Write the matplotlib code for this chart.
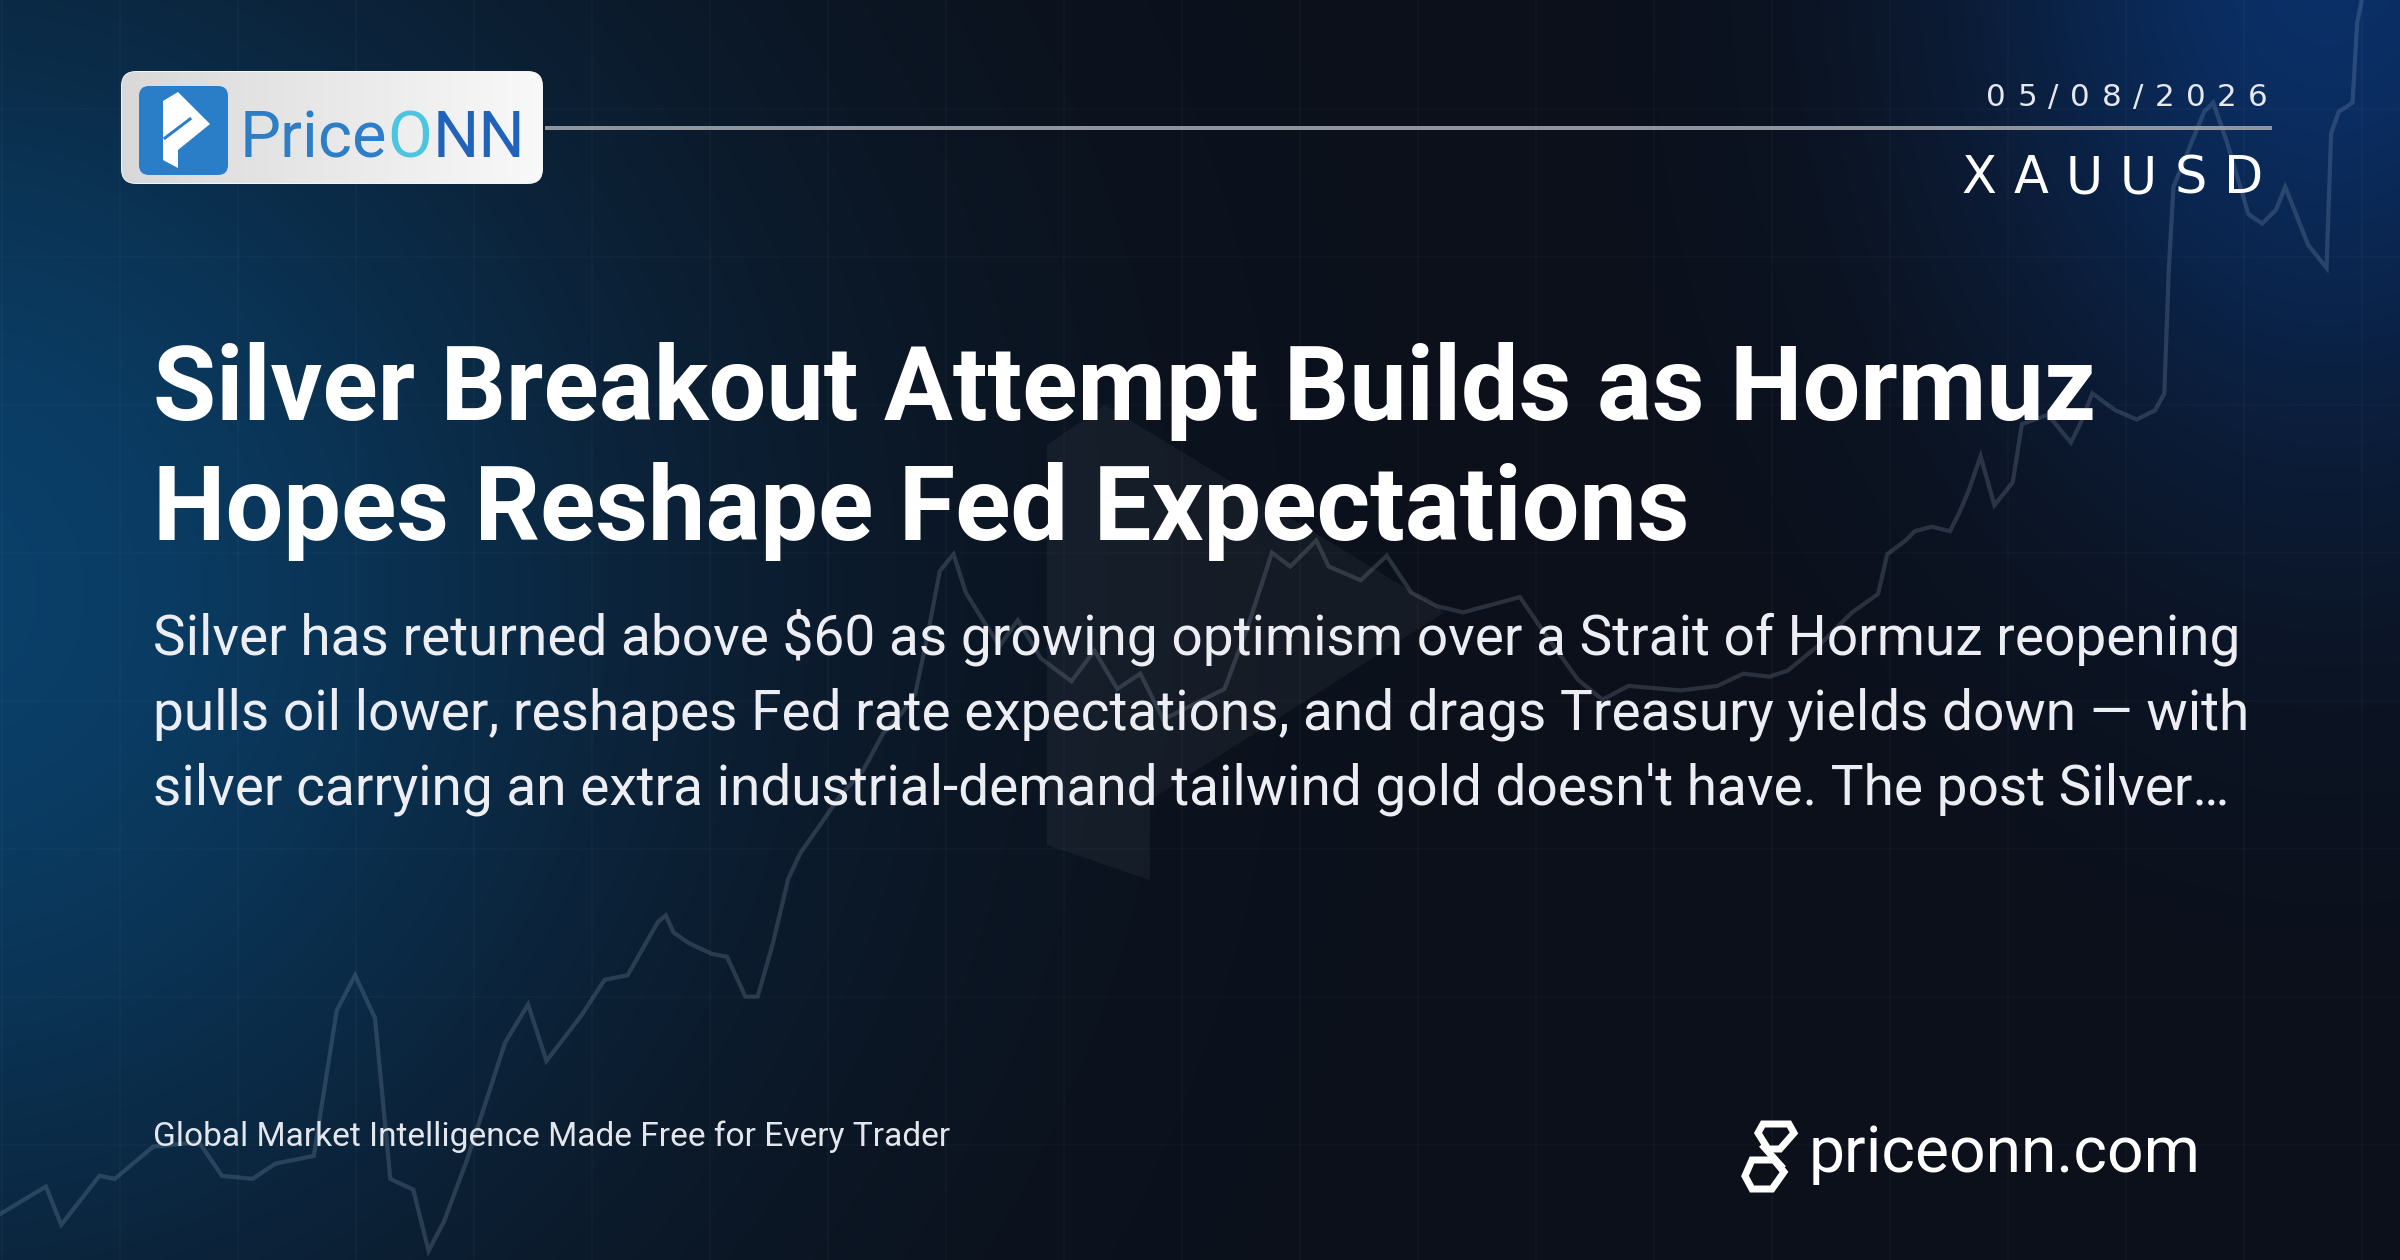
import numpy as np
import matplotlib
matplotlib.use("Agg")
import matplotlib.pyplot as plt
from matplotlib import font_manager
from matplotlib.font_manager import FontProperties
from matplotlib.patches import FancyBboxPatch, Polygon

# ---------------- data ----------------
date_label = "05/08/2026"
symbol_label = "XAUUSD"
title_lines = ["Silver Breakout Attempt Builds as Hormuz",
               "Hopes Reshape Fed Expectations"]
body_lines = ["Silver has returned above $60 as growing optimism over a Strait of Hormuz reopening",
              "pulls oil lower, reshapes Fed rate expectations, and drags Treasury yields down \u2014 with",
              "silver carrying an extra industrial-demand tailwind gold doesn't have. The post Silver\u2026"]
tagline = "Global Market Intelligence Made Free for Every Trader"
site_label = "priceonn.com"
brand_parts = ["Price", "O", "NN"]
brand_colors = ["#2d7ec7", "#4cc6e0", "#2163bb"]

# decorative background price trace (time index, level)
trend_t = [0, 30, 40, 65, 75, 100, 130, 145, 165, 180, 205, 220, 232, 245, 255, 270, 280, 290,
           305, 330, 345, 357, 380, 395, 410, 430, 435, 440, 450, 465, 475, 487, 495, 505, 515,
           523, 535, 548, 564, 577, 589, 598, 606, 614, 623, 631, 639, 653, 665, 680, 700, 715,
           730, 745, 760, 780, 800, 815, 831, 843, 860, 868, 889, 906, 922, 939, 956, 993, 1006,
           1015, 1031, 1047, 1064, 1098, 1122, 1139, 1156, 1168, 1190, 1210, 1227, 1233, 1245,
           1251, 1262, 1274, 1280, 1286, 1294, 1303, 1315, 1321, 1338, 1353, 1359, 1367, 1382,
           1396, 1408, 1414, 1417, 1420, 1440, 1446, 1455, 1469, 1478, 1487, 1493, 1508, 1520,
           1523, 1528, 1537, 1540, 1543]
trend_v = [30, 48, 23, 55, 53, 74, 77, 55, 53, 63, 68, 163, 186, 158, 53, 46, 6, 25,
           65, 142, 167, 130, 160, 183, 186, 221, 225, 214, 207, 200, 198, 172, 172, 207, 249,
           266, 283, 302, 320, 344, 357, 370, 408, 450, 461, 436, 423, 401, 418, 393, 378, 398,
           373, 383, 353, 363, 373, 413, 462, 453, 470, 453, 444, 460, 436, 427, 423, 433, 414,
           401, 379, 366, 375, 372, 375, 383, 381, 385, 403, 423, 435, 461, 470,
           476, 479, 476, 488, 502, 525, 493, 508, 546, 552, 534, 546, 566, 555,
           549, 555, 566, 648, 701, 750, 756, 730, 683, 677, 686, 701, 663, 648,
           736, 750, 756, 808, 823]

# ---------------- canvas ----------------
W, H, DPI = 2400, 1260, 200
fig = plt.figure(figsize=(W / DPI, H / DPI), dpi=DPI)
R = fig.canvas.get_renderer()

names = {f.name for f in font_manager.fontManager.ttflist}


def pick(*cands):
    for c in cands:
        if c in names:
            return c
    return "DejaVu Sans"


TITLE_FONT = pick("Liberation Sans Narrow", "Roboto", "Liberation Sans")
BODY_FONT = pick("Roboto", "Open Sans", "Noto Sans")
WIDE_FONT = pick("DejaVu Sans")


def px2pt(px):
    return px * 72.0 / DPI


# background axes (pixel space)
axb = fig.add_axes([0, 0, 1, 1], zorder=0)
axb.set_xlim(0, W)
axb.set_ylim(H, 0)
axb.axis("off")

yy, xx = np.mgrid[0:H:4, 0:W:4].astype(float)
base = np.array([12, 16, 26]) / 255.0
g1 = np.exp(-0.5 * (((xx + 0.03 * W) / (0.22 * W)) ** 2 + ((yy - 0.47 * H) / (0.42 * H)) ** 2))
g2 = np.exp(-0.5 * (((xx - 0.97 * W) / (0.11 * W)) ** 2 + ((yy + 0.05 * H) / (0.30 * H)) ** 2))
amp1 = np.array([-2, 48, 80]) / 255.0
amp2 = np.array([-2, 32, 78]) / 255.0
img = base[None, None, :] + g1[..., None] * amp1 + g2[..., None] * amp2
img = np.clip(img, 0, 1)
axb.imshow(img, extent=(0, W, H, 0), aspect="auto", interpolation="bilinear", zorder=0)

# faint grid
for gx in np.arange(2, W, 118):
    axb.plot([gx, gx], [0, H], color="white", alpha=0.022, lw=px2pt(2), zorder=1)
for gy in [109, 257, 405, 553, 701, 849, 997, 1145]:
    axb.plot([0, W], [gy, gy], color="white", alpha=0.018, lw=px2pt(2), zorder=1)

# watermark mark
wm = Polygon([(1047, 445), (1105, 405), (1445, 612), (1150, 800), (1150, 880), (1047, 845)],
             closed=True, facecolor="white", alpha=0.045, edgecolor="none", zorder=1)
axb.add_patch(wm)

# trend axes
axt = fig.add_axes([0, 0, 1, 1], zorder=1)
axt.patch.set_alpha(0)
axt.set_xlim(0, 1568)
axt.set_ylim(0, 823)
axt.axis("off")
axt.plot(trend_t, trend_v, color="#c4d6ee", alpha=0.17, lw=px2pt(4.2), solid_joinstyle="miter")

# foreground axes (pixel space)
ax = fig.add_axes([0, 0, 1, 1], zorder=2)
ax.patch.set_alpha(0)
ax.set_xlim(0, W)
ax.set_ylim(H, 0)
ax.axis("off")


def fit_size(s, target_w, family, weight="normal"):
    fp = FontProperties(family=family, weight=weight, size=20)
    w, _, _ = R.get_text_width_height_descent(s, fp, ismath=False)
    return 20 * target_w / w


def tracked(x_right, y_base, s, size_pt, target_w, family, color):
    fp = FontProperties(family=family, size=size_pt)
    ws = [R.get_text_width_height_descent(c, fp, ismath=False)[0] for c in s]
    gap = (target_w - sum(ws)) / (len(s) - 1)
    x = x_right - target_w
    for c, w in zip(s, ws):
        ax.text(x, y_base, c, fontproperties=fp, color=color, ha="left", va="baseline")
        x += w + gap


# ---- top-left logo ----
box = FancyBboxPatch((122, 72), 420, 111, boxstyle="round,pad=0,rounding_size=14",
                     facecolor="#ececec", edgecolor="#f4f4f4", lw=px2pt(2), zorder=3)
ax.add_patch(box)
grad = np.linspace(0.85, 0.975, 256)[None, :, None] * np.ones((2, 256, 3))
gi = ax.imshow(grad, extent=(122, 542, 183, 72), aspect="auto", zorder=3.1)
gi.set_clip_path(box)
sq = FancyBboxPatch((139, 86), 89, 89, boxstyle="round,pad=0,rounding_size=10",
                    facecolor="#2a7ec8", edgecolor="none", zorder=4)
ax.add_patch(sq)
pglyph = Polygon([(163, 101), (178, 92), (210, 124), (178, 150), (178, 168), (163, 160)],
                 closed=True, facecolor="white", edgecolor="none", zorder=5)
ax.add_patch(pglyph)
ax.plot([165, 190], [138, 119], color="#2a7ec8", lw=px2pt(3), zorder=6)

brand_font = pick("Liberation Sans Narrow", "Roboto")
bsize = fit_size("".join(brand_parts), 285, brand_font)
bfp = FontProperties(family=brand_font, size=bsize)
bx = 240
for part, col in zip(brand_parts, brand_colors):
    ax.text(bx, 157, part, fontproperties=bfp, color=col, ha="left", va="baseline", zorder=6)
    bx += R.get_text_width_height_descent(part, bfp, ismath=False)[0]

# ---- header rule, date, symbol ----
ax.plot([545, 2272], [128, 128], color="#9ea3ab", lw=px2pt(4), alpha=0.9, zorder=3,
        solid_capstyle="butt")
tracked(2268, 106, date_label, px2pt(31), 282, WIDE_FONT, "#e6e8ee")
tracked(2263, 193, symbol_label, px2pt(51), 302, WIDE_FONT, "white")

# ---- title ----
tsize = fit_size(title_lines[0], 1944, TITLE_FONT, "bold")
for i, line in enumerate(title_lines):
    ax.text(153, 420 + i * 120, line, fontsize=tsize, family=TITLE_FONT, weight="bold",
            color="white", ha="left", va="baseline", zorder=6)

# ---- body ----
bsz = fit_size(body_lines[1], 2100, BODY_FONT)
for i, line in enumerate(body_lines):
    ax.text(153, 655 + i * 74.5, line, fontsize=bsz, family=BODY_FONT, color="#eceef3",
            ha="left", va="baseline", zorder=6)

# ---- footer ----
tgsize = fit_size(tagline, 799, BODY_FONT)
ax.text(153, 1146, tagline, fontsize=tgsize, family=BODY_FONT, color="#e3e6ec",
        ha="left", va="baseline", zorder=6)

ssize = fit_size(site_label, 392, BODY_FONT)
ax.text(1809, 1172, site_label, fontsize=ssize, family=BODY_FONT, color="white",
        ha="left", va="baseline", zorder=6)

# site icon (interlocking links)
icon_lw = px2pt(7)
up = [(1763, 1124), (1789, 1124), (1794, 1133), (1780, 1149), (1768, 1149), (1758, 1133)]
lo = [(1752, 1160), (1774, 1160), (1784, 1172), (1772, 1189), (1752, 1189), (1745, 1176)]
for poly in (up, lo):
    ax.add_patch(Polygon(poly, closed=True, facecolor="none", edgecolor="white",
                         lw=icon_lw, joinstyle="miter", zorder=6))
ax.plot([1764, 1781], [1147, 1166], color="white", lw=icon_lw, zorder=6)

fig.savefig("out.png", dpi=DPI)
